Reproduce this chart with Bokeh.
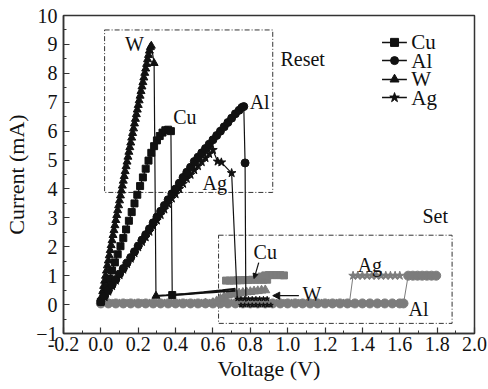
from bokeh.plotting import figure
from bokeh.models import Range1d, FixedTicker, Arrow, NormalHead, NumeralTickFormatter
from bokeh.core.properties import value
from bokeh.embed import file_html
from bokeh.resources import INLINE

# ---------------- data ----------------
x_ticks = [-0.2, 0.0, 0.2, 0.4, 0.6, 0.8, 1.0, 1.2, 1.4, 1.6, 1.8, 2.0]
x_minor = [-0.1, 0.1, 0.3, 0.5, 0.7, 0.9, 1.1, 1.3, 1.5, 1.7, 1.9]
y_ticks = [-1, 0, 1, 2, 3, 4, 5, 6, 7, 8, 9, 10]
y_minor = [-0.5, 0.5, 1.5, 2.5, 3.5, 4.5, 5.5, 6.5, 7.5, 8.5, 9.5]

series_names = ["Cu", "Al", "W", "Ag"]

# Reset sweeps (black)
w_reset_v = [0.000, 0.005, 0.010, 0.015, 0.020, 0.025, 0.030, 0.035, 0.040, 0.045,
             0.050, 0.055, 0.060, 0.065, 0.070, 0.075, 0.080, 0.085, 0.090, 0.095,
             0.100, 0.105, 0.110, 0.115, 0.120, 0.125, 0.130, 0.135, 0.140, 0.145,
             0.150, 0.155, 0.160, 0.165, 0.170, 0.175, 0.180, 0.185, 0.190, 0.195,
             0.200, 0.205, 0.210, 0.215, 0.220, 0.225, 0.230, 0.235, 0.240, 0.245,
             0.250, 0.255, 0.260, 0.265, 0.270, 0.285, 0.295]
w_reset_i = [0.10, 0.28, 0.46, 0.64, 0.82, 0.99, 1.17, 1.35, 1.52, 1.70,
             1.88, 2.05, 2.22, 2.40, 2.57, 2.74, 2.92, 3.09, 3.26, 3.43,
             3.60, 3.77, 3.94, 4.11, 4.28, 4.44, 4.61, 4.78, 4.94, 5.11,
             5.28, 5.44, 5.60, 5.77, 5.93, 6.09, 6.26, 6.42, 6.58, 6.74,
             6.90, 7.06, 7.22, 7.38, 7.54, 7.69, 7.85, 8.01, 8.16, 8.32,
             8.48, 8.63, 8.78, 8.90, 8.95, 8.35, 0.30]
w_hrs_v = [0.295, 0.35, 0.40, 0.45, 0.50, 0.55, 0.60, 0.65, 0.70, 0.72]
w_hrs_i = [0.30, 0.32, 0.34, 0.36, 0.38, 0.41, 0.43, 0.45, 0.47, 0.48]

cu_reset_v = [0.000, 0.015, 0.030, 0.045, 0.060, 0.075, 0.090, 0.105, 0.120, 0.135,
              0.150, 0.165, 0.180, 0.195, 0.210, 0.225, 0.240, 0.255, 0.270, 0.285,
              0.300, 0.315, 0.330, 0.345, 0.360, 0.375, 0.382]
cu_reset_i = [0.10, 0.35, 0.62, 0.90, 1.18, 1.46, 1.74, 2.02, 2.30, 2.60,
              2.90, 3.20, 3.50, 3.80, 4.10, 4.40, 4.70, 4.98, 5.25, 5.48,
              5.68, 5.83, 5.95, 6.03, 6.05, 6.00, 0.33]
cu_hrs_v = [0.382, 0.45, 0.55, 0.65, 0.72]
cu_hrs_i = [0.33, 0.37, 0.43, 0.50, 0.55]

al_reset_v = [0.00, 0.02, 0.04, 0.06, 0.08, 0.10, 0.12, 0.14, 0.16, 0.18,
              0.20, 0.22, 0.24, 0.26, 0.28, 0.30, 0.32, 0.34, 0.36, 0.38,
              0.40, 0.42, 0.44, 0.46, 0.48, 0.50, 0.52, 0.54, 0.56, 0.58,
              0.60, 0.62, 0.64, 0.66, 0.68, 0.70, 0.72, 0.74, 0.755, 0.765, 0.772]
al_reset_i = [0.10, 0.30, 0.49, 0.68, 0.87, 1.06, 1.25, 1.44, 1.63, 1.83,
              2.03, 2.23, 2.42, 2.62, 2.83, 3.03, 3.23, 3.43, 3.63, 3.83,
              4.00, 4.20, 4.40, 4.58, 4.75, 4.95, 5.10, 5.25, 5.40, 5.55,
              5.70, 5.85, 6.00, 6.15, 6.30, 6.45, 6.60, 6.72, 6.82, 6.85, 4.90]
al_drop_v = [0.776]
al_drop_i = [0.10]

ag_reset_v = [0.00, 0.02, 0.04, 0.06, 0.08, 0.10, 0.12, 0.14, 0.16, 0.18,
              0.20, 0.22, 0.24, 0.26, 0.28, 0.30, 0.32, 0.34, 0.36, 0.38,
              0.40, 0.42, 0.44, 0.46, 0.48, 0.50, 0.52, 0.54, 0.56, 0.58,
              0.60, 0.625, 0.645, 0.70]
ag_reset_i = [0.10, 0.26, 0.45, 0.64, 0.83, 1.02, 1.21, 1.40, 1.59, 1.78,
              1.98, 2.17, 2.33, 2.52, 2.72, 2.91, 3.10, 3.29, 3.48, 3.67,
              3.82, 4.00, 4.18, 4.35, 4.49, 4.65, 4.79, 4.93, 5.07, 5.21,
              5.35, 4.95, 4.92, 4.55]
ag_hrs_v = [0.73, 0.75, 0.77, 0.79, 0.81, 0.83, 0.85, 0.87, 0.89]
ag_hrs_i = [0.20, 0.20, 0.20, 0.20, 0.20, 0.20, 0.20, 0.20, 0.20]
ag_hrs2_v = [0.75, 0.77, 0.79, 0.81, 0.83, 0.85, 0.87, 0.89, 0.91]
ag_hrs2_i = [-0.02, -0.02, -0.02, -0.02, -0.02, -0.02, -0.02, -0.02, -0.02]

# Set sweeps (gray)
al_set_v = [0.00, 0.04, 0.08, 0.12, 0.16, 0.20, 0.24, 0.28, 0.32, 0.36,
            0.40, 0.44, 0.48, 0.52, 0.56, 0.60, 0.64, 0.68, 0.72, 0.76,
            0.80, 0.84, 0.88, 0.92, 0.96, 1.00, 1.04, 1.08, 1.12, 1.16,
            1.20, 1.24, 1.28, 1.32, 1.36, 1.40, 1.44, 1.48, 1.52, 1.56,
            1.60, 1.62, 1.645, 1.67, 1.695, 1.72, 1.745, 1.77, 1.795]
al_set_i = [0.04, 0.04, 0.04, 0.04, 0.04, 0.04, 0.04, 0.04, 0.04, 0.04,
            0.04, 0.04, 0.04, 0.04, 0.04, 0.04, 0.04, 0.04, 0.04, 0.04,
            0.04, 0.04, 0.04, 0.04, 0.04, 0.04, 0.04, 0.04, 0.04, 0.04,
            0.04, 0.04, 0.04, 0.04, 0.04, 0.04, 0.04, 0.04, 0.04, 0.04,
            0.04, 0.04, 1.00, 1.00, 1.00, 1.00, 1.00, 1.00, 1.00]

ag_set_v = [0.02, 0.06, 0.10, 0.14, 0.18, 0.22, 0.26, 0.30, 0.34, 0.38,
            0.42, 0.46, 0.50, 0.54, 0.58, 0.62, 0.66, 0.70, 0.74, 0.78,
            0.82, 0.86, 0.90, 0.94, 0.98, 1.02, 1.06, 1.10, 1.14, 1.18,
            1.22, 1.26, 1.30, 1.33, 1.35, 1.375, 1.40, 1.425, 1.45, 1.475,
            1.50, 1.525, 1.55, 1.575, 1.60]
ag_set_i = [0.04, 0.04, 0.04, 0.04, 0.04, 0.04, 0.04, 0.04, 0.04, 0.04,
            0.04, 0.04, 0.04, 0.04, 0.04, 0.04, 0.04, 0.04, 0.04, 0.04,
            0.04, 0.04, 0.04, 0.04, 0.04, 0.04, 0.04, 0.04, 0.04, 0.04,
            0.04, 0.04, 0.04, 0.04, 1.00, 1.00, 1.00, 1.00, 1.00, 1.00,
            1.00, 1.00, 1.00, 1.00, 1.00]

w_set_v = [0.56, 0.60, 0.62, 0.64, 0.66, 0.68, 0.70, 0.72, 0.74, 0.76,
           0.78, 0.80, 0.82, 0.84, 0.86, 0.88]
w_set_i = [0.04, 0.06, 0.12, 0.20, 0.27, 0.32, 0.35, 0.37, 0.39, 0.41,
           0.43, 0.44, 0.46, 0.47, 0.49, 0.50]

cu_set_v = [0.67, 0.69, 0.71, 0.73, 0.75, 0.77, 0.79, 0.81, 0.83, 0.85,
            0.87, 0.89, 0.84, 0.86, 0.88, 0.90, 0.92, 0.94, 0.96, 0.98]
cu_set_i = [0.83, 0.83, 0.83, 0.84, 0.84, 0.85, 0.85, 0.86, 0.86, 0.86,
            0.86, 0.86, 0.92, 0.97, 1.01, 1.02, 1.02, 1.02, 1.02, 1.01]

# ---------------- figure ----------------
FONT = "Liberation Serif"
BLACK = "#111111"
GRAY = "#7c7c7c"
AXC = "#333333"

p = figure(width=488, height=389, output_backend="svg", toolbar_location=None,
           x_range=Range1d(-0.2, 2.0), y_range=Range1d(-1, 10),
           min_border_left=63, min_border_right=14, min_border_top=15, min_border_bottom=56)
p.grid.visible = False
p.outline_line_color = AXC
p.outline_line_width = 1.5
p.background_fill_color = "white"
p.border_fill_color = "white"

xa = p.xaxis[0]
ya = p.yaxis[0]
xa.ticker = FixedTicker(ticks=x_ticks, minor_ticks=x_minor)
xa.formatter = NumeralTickFormatter(format="0.0")
ya.ticker = FixedTicker(ticks=y_ticks, minor_ticks=y_minor)
xa.axis_label = "Voltage (V)"
ya.axis_label = "Current (mA)"
for ax in (xa, ya):
    ax.major_tick_in = 6
    ax.major_tick_out = 0
    ax.minor_tick_in = 3
    ax.minor_tick_out = 0
    ax.axis_line_color = AXC
    ax.axis_line_width = 1.5
    ax.major_tick_line_color = AXC
    ax.minor_tick_line_color = AXC
    ax.major_tick_line_width = 1.2
    ax.major_label_text_font = FONT
    ax.major_label_text_font_size = "20px"
    ax.major_label_text_color = BLACK
    ax.axis_label_text_font = FONT
    ax.axis_label_text_font_size = "22px"
    ax.axis_label_text_font_style = "normal"
    ax.axis_label_text_color = BLACK
xa.major_label_standoff = 3
xa.axis_label_standoff = 2
ya.major_label_standoff = 6
ya.axis_label_standoff = 4

# dashed boxes
p.quad(left=[0.02], right=[0.92], bottom=[3.88], top=[9.5], fill_alpha=0,
       line_color=AXC, line_width=1, line_dash="5 2 1 2")
p.quad(left=[0.63], right=[1.88], bottom=[-0.65], top=[2.4], fill_alpha=0,
       line_color=AXC, line_width=1, line_dash="5 2 1 2")

# set sweeps (gray)
p.line(ag_set_v, ag_set_i, line_color=GRAY, line_width=1)
p.scatter(ag_set_v, ag_set_i, marker="star", size=9, fill_color=GRAY, line_color=GRAY)
p.line(al_set_v, al_set_i, line_color=GRAY, line_width=1)
p.scatter(al_set_v, al_set_i, marker="circle", size=9, fill_color=GRAY, line_color=GRAY)
p.scatter(w_set_v, w_set_i, marker="triangle", size=9, fill_color=GRAY, line_color=GRAY)
p.scatter(cu_set_v, cu_set_i, marker="square", size=7, fill_color=GRAY, line_color=GRAY)

# reset sweeps (black)
p.line(w_hrs_v, w_hrs_i, line_color=BLACK, line_width=2)
p.line(cu_hrs_v, cu_hrs_i, line_color=BLACK, line_width=2)
p.line(w_reset_v, w_reset_i, line_color=BLACK, line_width=1.2)
p.scatter(w_reset_v, w_reset_i, marker="triangle", size=8, fill_color=BLACK, line_color=BLACK)
p.line(cu_reset_v, cu_reset_i, line_color=BLACK, line_width=1.2)
p.scatter(cu_reset_v, cu_reset_i, marker="square", size=7, fill_color=BLACK, line_color=BLACK)
p.line(ag_reset_v + ag_hrs_v, ag_reset_i + ag_hrs_i, line_color=BLACK, line_width=1.2)
p.scatter(ag_reset_v, ag_reset_i, marker="star", size=9, fill_color=BLACK, line_color=BLACK)
p.scatter(ag_hrs_v + ag_hrs2_v, ag_hrs_i + ag_hrs2_i, marker="star", size=5, fill_color=BLACK, line_color=BLACK)
p.line(al_reset_v + al_drop_v, al_reset_i + al_drop_i, line_color=BLACK, line_width=1.2)
p.scatter(al_reset_v, al_reset_i, marker="circle", size=8, fill_color=BLACK, line_color=BLACK)

# annotations
p.text(x=[0.18, 0.45, 0.85, 0.61, 1.08, 1.79, 0.88, 1.44, 1.13, 1.70],
       y=[9.03, 6.5, 7.0, 4.19, 8.5, 3.05, 1.83, 1.38, 0.38, -0.14],
       text=["W", "Cu", "Al", "Ag", "Reset", "Set", "Cu", "Ag", "W", "Al"],
       text_font=value(FONT), text_font_size=value("20px"), text_color=BLACK,
       text_align="center", text_baseline="middle")
p.add_layout(Arrow(end=NormalHead(size=7, fill_color=BLACK, line_color=BLACK),
                   x_start=1.06, y_start=0.31, x_end=0.92, y_end=0.31,
                   line_color=BLACK, line_width=1.2))
p.add_layout(Arrow(end=NormalHead(size=5, fill_color=BLACK, line_color=BLACK),
                   x_start=0.845, y_start=1.45, x_end=0.82, y_end=0.9,
                   line_color=BLACK, line_width=1.2))

# legend (line + marker + label), placed inside the frame at upper right
leg_y = [9.07, 8.44, 7.79, 7.16]
leg_markers = ["square", "circle", "triangle", "star"]
leg_sizes = [8, 8, 9, 10]
p.segment(x0=[1.505] * 4, y0=leg_y, x1=[1.638] * 4, y1=leg_y, line_color=BLACK, line_width=1.5)
for yy, mk, sz in zip(leg_y, leg_markers, leg_sizes):
    p.scatter([1.572], [yy], marker=mk, size=sz, fill_color=BLACK, line_color=BLACK)
p.text(x=[1.662] * 4, y=leg_y, text=series_names,
       text_font=value(FONT), text_font_size=value("21px"), text_color=BLACK,
       text_align="left", text_baseline="middle")

open("out.html", "w").write(file_html(p, INLINE))
